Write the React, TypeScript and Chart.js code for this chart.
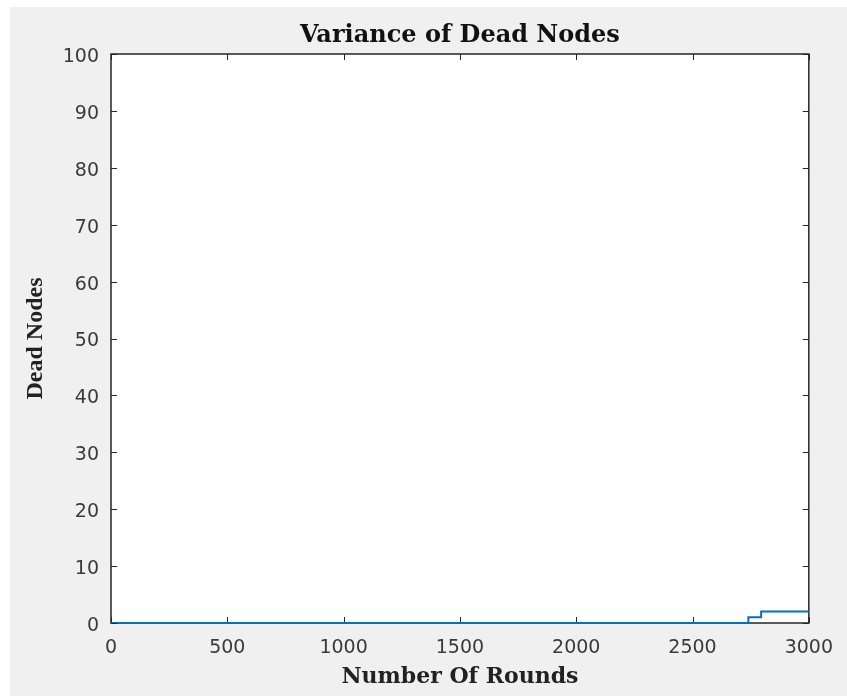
import React, { useEffect, useRef } from "react";
import { Chart, registerables } from "chart.js";

Chart.register(...registerables);

// ---- data ----
const roundsX = [0, 2740, 2795, 3000];
const deadNodes = [0, 1, 2, 2];
const xTickValues = [0, 500, 1000, 1500, 2000, 2500, 3000];
const yTickValues = [0, 10, 20, 30, 40, 50, 60, 70, 80, 90, 100];
const titleText = "Variance of Dead Nodes";
const xAxisLabel = "Number Of Rounds";
const yAxisLabel = "Dead Nodes";

const W = 847;
const H = 696;

const framePlugin = {
  id: "matlabFrame",
  beforeDraw(chart: any) {
    const { ctx, chartArea: a } = chart;
    ctx.save();
    ctx.fillStyle = "#ffffff";
    ctx.fillRect(0, 0, chart.width, chart.height);
    ctx.fillStyle = "#f0f0f0";
    ctx.fillRect(10, 7, chart.width - 10, chart.height - 7);
    ctx.fillStyle = "#ffffff";
    ctx.fillRect(a.left, a.top, a.right - a.left, a.bottom - a.top);
    ctx.restore();
  },
  beforeDatasetsDraw(chart: any) {
    const { ctx, chartArea: a, scales } = chart;
    ctx.save();
    // inward ticks
    ctx.strokeStyle = "#262626";
    ctx.lineWidth = 1;
    ctx.beginPath();
    const L = 6;
    scales.x.ticks.forEach((t: any) => {
      const px = Math.round(scales.x.getPixelForValue(t.value)) + 0.5;
      ctx.moveTo(px, a.bottom);
      ctx.lineTo(px, a.bottom - L);
      ctx.moveTo(px, a.top);
      ctx.lineTo(px, a.top + L);
    });
    scales.y.ticks.forEach((t: any) => {
      const py = Math.round(scales.y.getPixelForValue(t.value)) + 0.5;
      ctx.moveTo(a.left, py);
      ctx.lineTo(a.left + L, py);
      ctx.moveTo(a.right, py);
      ctx.lineTo(a.right - L, py);
    });
    ctx.stroke();
    // box
    ctx.lineWidth = 1.5;
    ctx.strokeRect(a.left, a.top, a.right - a.left, a.bottom - a.top);
    // title
    ctx.fillStyle = "#111111";
    ctx.font = 'bold 24px "DejaVu Serif"';
    ctx.textAlign = "center";
    ctx.textBaseline = "alphabetic";
    ctx.fillText(titleText, (a.left + a.right) / 2, 42);
    ctx.restore();
  },
};

export default function App() {
  const canvasRef = useRef<HTMLCanvasElement | null>(null);

  useEffect(() => {
    const canvas = canvasRef.current;
    if (!canvas) return;
    const chart = new Chart(canvas, {
      type: "line",
      data: {
        datasets: [
          {
            data: roundsX.map((x, i) => ({ x, y: deadNodes[i] })),
            borderColor: "#0072BD",
            borderWidth: 2,
            pointRadius: 0,
            stepped: "before",
            fill: false,
          },
        ],
      },
      options: {
        responsive: false,
        animation: false,
        events: [],
        layout: { padding: { left: 0, top: 54, right: 37, bottom: 0 } },
        plugins: {
          legend: { display: false },
          title: { display: false },
          tooltip: { enabled: false },
        },
        scales: {
          x: {
            type: "linear",
            min: 0,
            max: 3000,
            grid: { display: false, drawTicks: false },
            border: { display: false },
            afterBuildTicks: (s: any) => {
              s.ticks = xTickValues.map((v) => ({ value: v }));
            },
            afterFit: (s: any) => {
              s.height = 73;
            },
            ticks: {
              padding: 14,
              color: "#3a3a3a",
              font: { family: '"DejaVu Sans"', size: 19 },
              maxRotation: 0,
              autoSkip: false,
              callback: (v: any) => String(v),
            },
            title: {
              display: true,
              text: xAxisLabel,
              color: "#222222",
              font: { family: '"DejaVu Serif"', size: 22, weight: "bold" },
              padding: { top: 0, bottom: 5.4 },
            },
          },
          y: {
            type: "linear",
            min: 0,
            max: 100,
            grid: { display: false, drawTicks: false },
            border: { display: false },
            afterBuildTicks: (s: any) => {
              s.ticks = yTickValues.map((v) => ({ value: v }));
            },
            afterFit: (s: any) => {
              s.width = 111;
            },
            ticks: {
              padding: 12,
              labelOffset: 3,
              color: "#3a3a3a",
              font: { family: '"DejaVu Sans"', size: 19 },
              autoSkip: false,
              callback: (v: any) => String(v),
            },
            title: {
              display: true,
              text: yAxisLabel,
              color: "#222222",
              font: { family: '"Liberation Serif"', size: 24, weight: "bold" },
              padding: { top: 21, bottom: 0 },
            },
          },
        },
      },
      plugins: [framePlugin],
    });
    return () => chart.destroy();
  }, []);

  return (
    <div style={{ position: "fixed", left: 0, top: 0, width: W, height: H }}>
      <canvas ref={canvasRef} width={W} height={H} style={{ display: "block", width: W, height: H }} />
    </div>
  );
}
